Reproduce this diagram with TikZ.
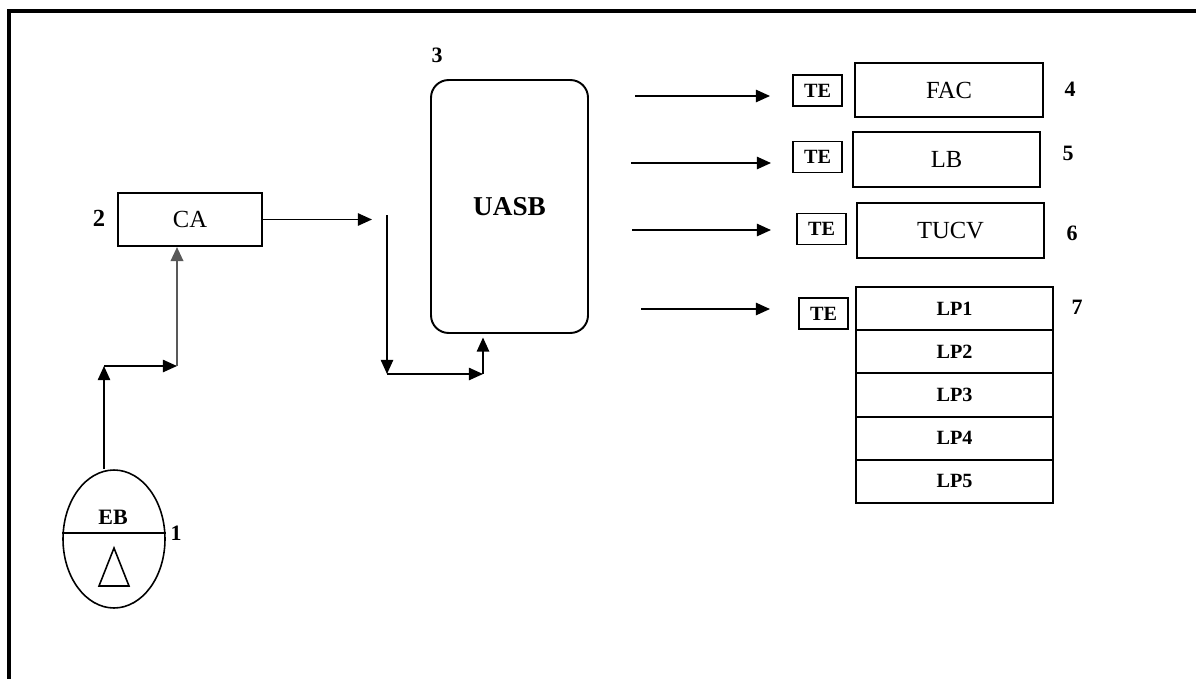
\documentclass[tikz,border=0pt]{standalone}
\usepackage{fontspec}
\setmainfont{Liberation Serif}
\usetikzlibrary{arrows.meta,shapes.geometric}

\begin{document}
\begin{tikzpicture}[x=0.02cm,y=-0.02cm,>={Triangle[length=8pt,width=7pt]},
    box/.style={draw,line width=1.1pt,inner sep=0pt,font=\fontsize{14}{16}\selectfont},
    tebox/.style={draw,line width=1.1pt,inner sep=0pt,minimum width=0.98cm,minimum height=0.62cm,font=\fontsize{11.5}{13}\selectfont\bfseries},
    lpbox/.style={draw,line width=1.1pt,inner sep=0pt,minimum width=3.94cm,minimum height=0.864cm,font=\fontsize{11.5}{13}\selectfont\bfseries},
    num/.style={inner sep=0pt,font=\fontsize{12.5}{14}\selectfont\bfseries},
    flow/.style={->,line width=0.9pt}]
    \useasboundingbox (0,0) rectangle (1196,679);
    \draw[line width=2.3pt] (9,720) |- (1220,11);
    % left part
    \node[draw,ellipse,line width=0.9pt,minimum width=2.04cm,minimum height=2.76cm,inner sep=0pt] (eb) at (114,539) {};
    \draw[line width=0.9pt] (eb.west |- 0,533) -- (eb.east |- 0,533);
    \node[num] (eblbl) at (113,517) {EB};
    \draw[line width=0.9pt] (114,548) -- (99,586) -- (129,586) -- cycle;
    \node[num] (n1) at (176,533) {1};
    \node[box,minimum width=2.88cm,minimum height=1.06cm] (ca) at (190,219.5) {CA};
    \node[num,font=\fontsize{14}{16}\selectfont\bfseries] (n2) at (99,218) {2};
    \coordinate (j1) at (104,366);
    \coordinate (j2) at (177,366);
    \draw[flow] (j1 |- eb.north) -- (j1);
    \draw[flow] (j1) -- (j2);
    \draw[flow,gray!70!black,line width=1.4pt] (j2) -- (j2 |- ca.south);
    % UASB
    \node[box,rounded corners=10pt,minimum width=3.14cm,minimum height=5.06cm,font=\fontsize{15.5}{18}\selectfont\bfseries] (uasb) at (509.5,206.5) {UASB};
    \node[num] (n3) at (437,55) {3};
    \coordinate (c1) at (372,219.5);
    \coordinate (d1) at (387,215);
    \coordinate (d2) at (387,374);
    \coordinate (d3) at (483,374);
    \draw[flow] (ca.east) -- (c1);
    \draw[flow] (d1) -- (d2);
    \draw[flow] (d2) -- (d3);
    \draw[flow,shorten >=2pt] (d3) -- (d3 |- uasb.south);
    % outputs
    \node[box,minimum width=3.76cm,minimum height=1.08cm] (fac) at (949,90) {FAC};
    \node[box,minimum width=3.74cm,minimum height=1.10cm] (lb) at (946.5,159.5) {LB};
    \node[box,minimum width=3.74cm,minimum height=1.10cm] (tucv) at (950.5,230.5) {TUCV};
    \foreach \i in {1,...,5}
      \node[lpbox] (lp\i) at (954.5,{287+43.2*(\i-0.5)}) {LP\i};
    \node[tebox] (te1) at (817.5,90.5) {TE};
    \node[tebox] (te2) at (817.5,157) {TE};
    \node[tebox] (te3) at (821.5,229) {TE};
    \node[tebox] (te4) at (823.5,313.5) {TE};
    \node[num] (n4) at (1070,89) {4};
    \node[num] (n5) at (1068,153) {5};
    \node[num] (n6) at (1072,233) {6};
    \node[num] (n7) at (1077,307) {7};
    \coordinate (o1) at (635,96);   \coordinate (e1) at (770,96);
    \coordinate (o2) at (631,163);  \coordinate (e2) at (771,163);
    \coordinate (o3) at (632,230);  \coordinate (e3) at (771,230);
    \coordinate (o4) at (641,309);  \coordinate (e4) at (770,309);
    \foreach \k in {1,...,4}
      \draw[flow] (o\k) -- (e\k);
\end{tikzpicture}
\end{document}
